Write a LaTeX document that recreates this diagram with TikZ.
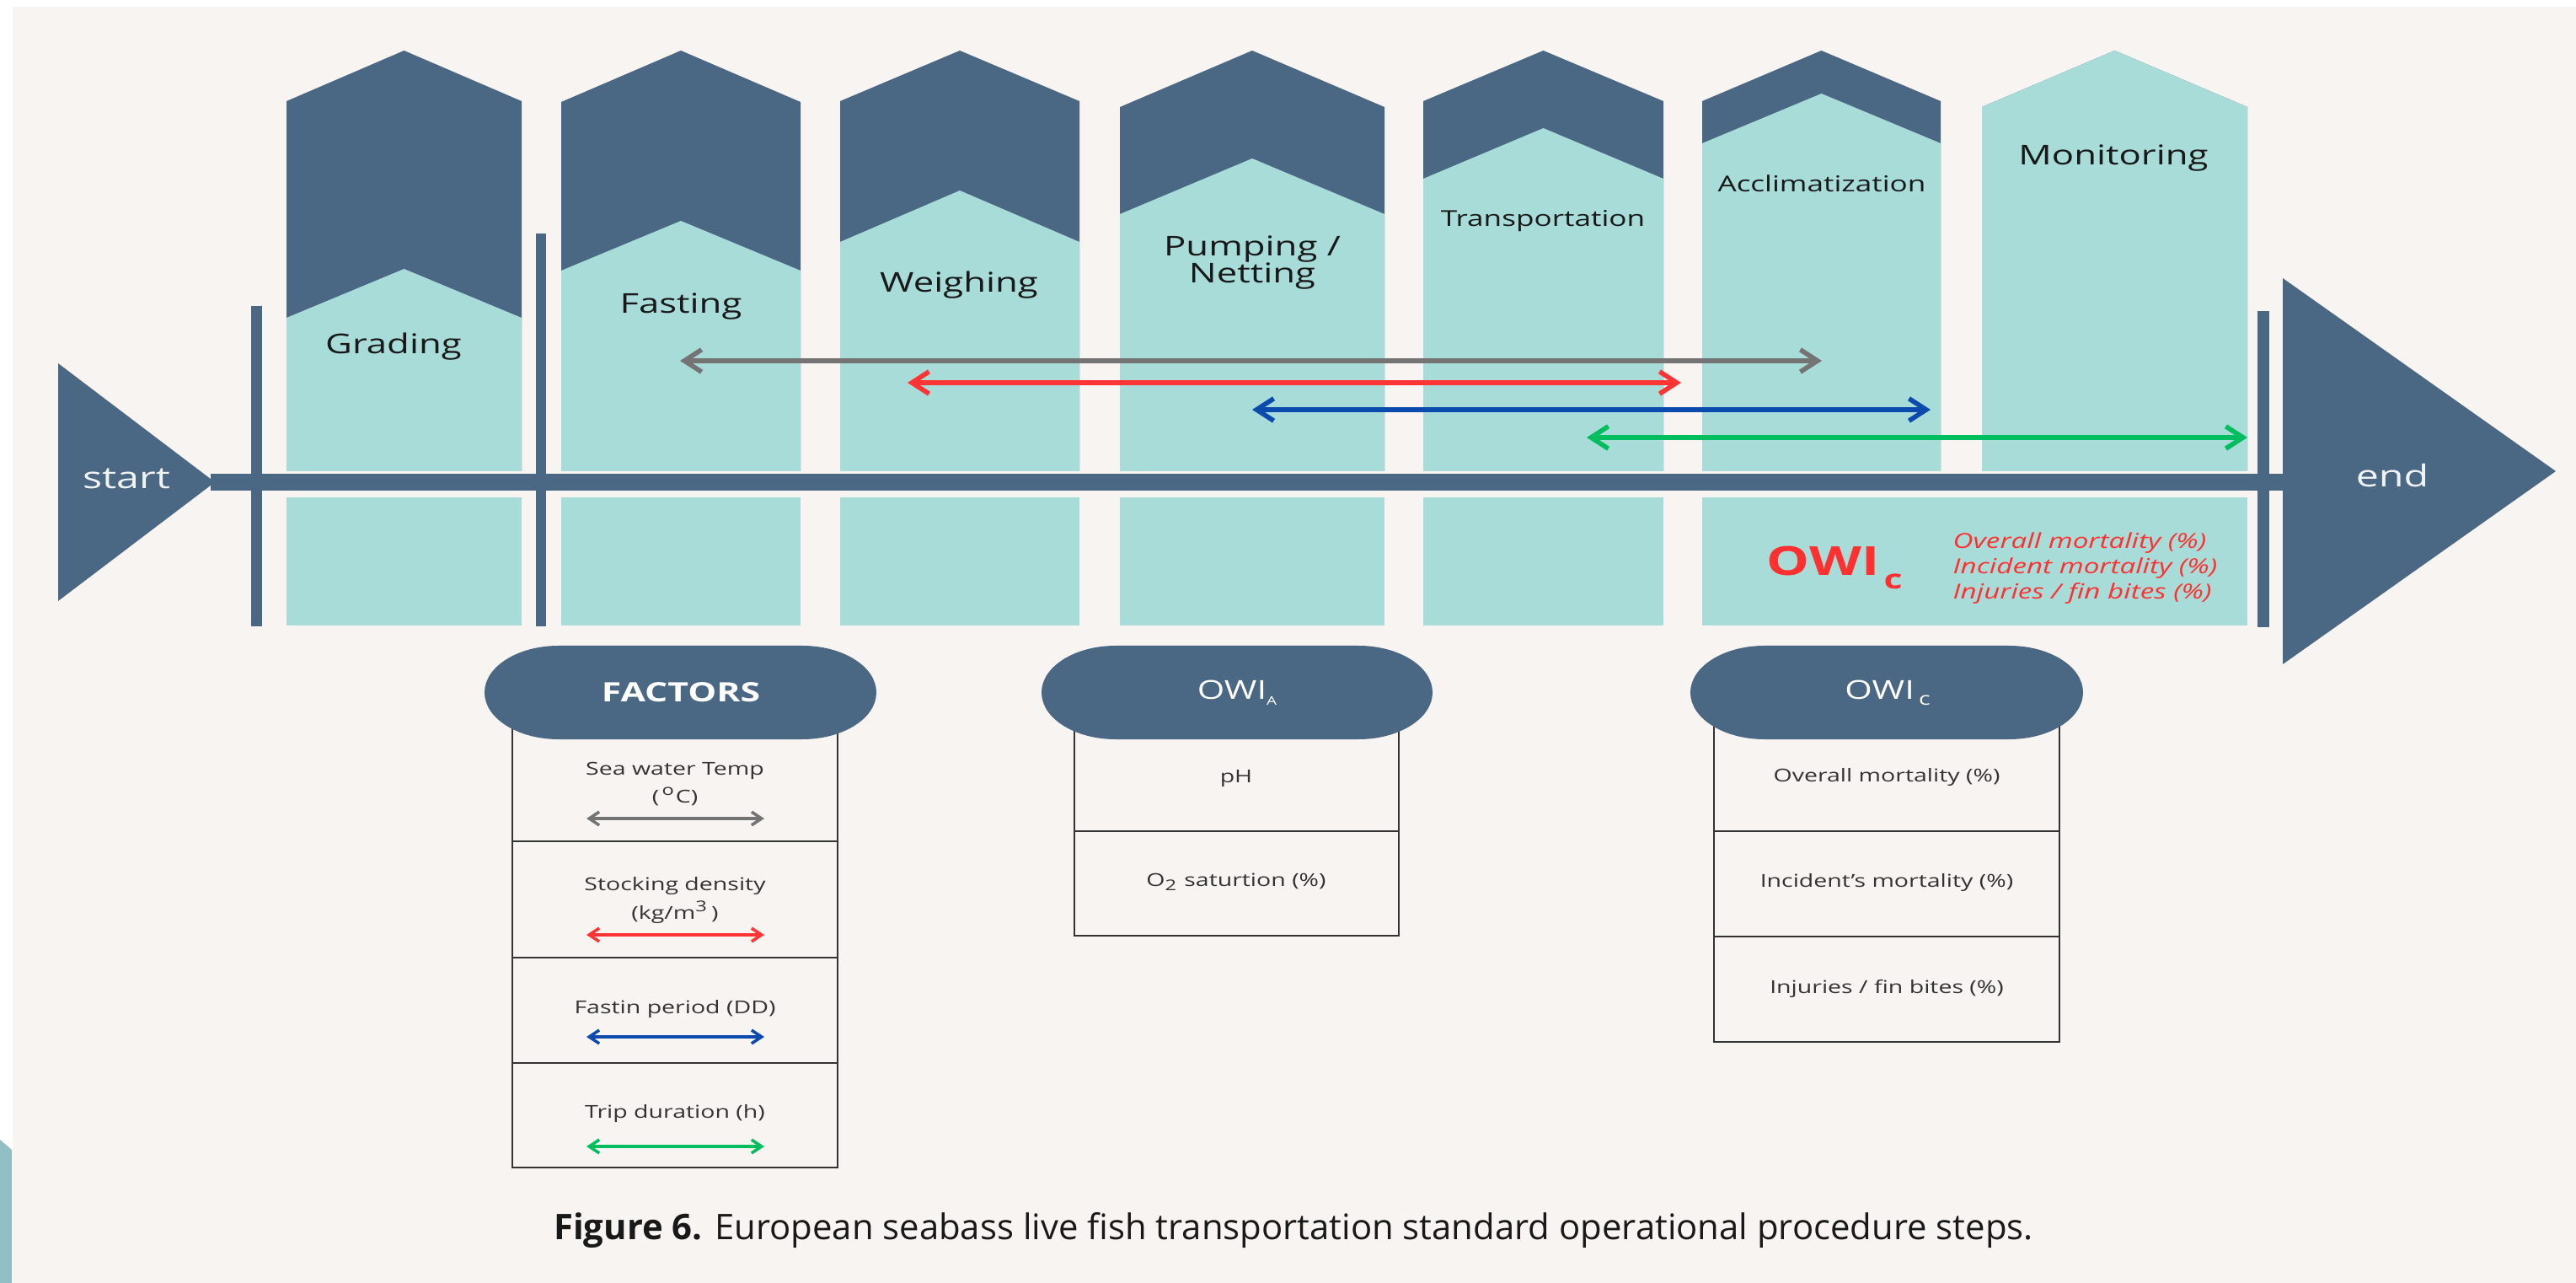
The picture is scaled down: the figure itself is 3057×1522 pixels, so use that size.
\documentclass[tikz,border=0pt]{standalone}
\usepackage{fontspec}
\setmainfont{Open Sans}
\newfontfamily\widesans[FakeStretch=1.35]{Open Sans}
\usepackage{tikz}
\usetikzlibrary{positioning,arrows.meta}

\definecolor{paper}{HTML}{F7F4F1}
\definecolor{slate}{HTML}{4A6783}
\definecolor{aqua}{HTML}{A8DCD8}
\definecolor{tempgrey}{HTML}{747474}
\definecolor{densred}{HTML}{FF3535}
\definecolor{fastblue}{HTML}{0B4BAD}
\definecolor{tripgreen}{HTML}{00BD5E}
\definecolor{owired}{HTML}{FF3030}

\tikzset{
  steplabel/.style={font={\widesans\fontsize{9.2}{11}\selectfont}, text=black!90, anchor=base, inner sep=0pt},
  smallstep/.style={steplabel, font={\widesans\fontsize{7.4}{9}\selectfont}},
  endlabel/.style={font={\widesans\fontsize{10.2}{12}\selectfont}, text=white!92!slate, anchor=base, inner sep=0pt},
  pilltext/.style={font={\widesans\fontsize{8.8}{10}\selectfont}, text=white, inner sep=0pt},
  celltext/.style={font={\widesans\fontsize{6}{7}\selectfont}, text=black!80, inner sep=0pt},
  owilist/.style={font={\widesans\itshape\fontsize{7}{8}\selectfont}, text=owired, anchor=base west, inner sep=0pt},
  tablerule/.style={draw=black!80, line width=0.8pt},
  spanarrow/.style={line width=1.6pt, {Straight Barb[length=5.8pt,width=7.5pt]}-{Straight Barb[length=5.8pt,width=7.5pt]}},
  keyarrow/.style={line width=1pt, {Straight Barb[length=3.4pt,width=4.5pt]}-{Straight Barb[length=3.4pt,width=4.5pt]}}
}

\begin{document}
\begin{tikzpicture}[x=0.01cm,y=-0.01cm]
\useasboundingbox (0,0) rectangle (3057,1522);
\fill[white] (0,0) rectangle (3057,1522);
\fill[paper] (15,8) rectangle (3057,1522);
\fill[aqua!75!slate] (0,1352) -- (14,1364) -- (14,1522) -- (0,1522) -- cycle;

% steps: dark chevron head, aqua body
\foreach \xl/\xr/\sh/\tp/\ts in {340/619/120/319/377, 666/950/121/262/321, 997/1281/120/226/287,
    1329/1643/127/188/254, 1689/1974/120/152/212, 2020/2303/120/111/170, 2352/2667/127/60/127}{
  \pgfmathsetmacro\xm{(\xl+\xr)/2}
  \fill[slate] (\xl,559) -- (\xl,\sh) -- (\xm,60) -- (\xr,\sh) -- (\xr,559) -- cycle;
  \fill[aqua] (\xl,559) -- (\xl,\ts) -- (\xm,\tp) -- (\xr,\ts) -- (\xr,559) -- cycle;
}
\foreach \xl/\xr in {340/619, 666/950, 997/1281, 1329/1643, 1689/1974, 2020/2667}
  \fill[aqua] (\xl,590) rectangle (\xr,742);

% spine, head and tail
\fill[slate] (250,562) rectangle (2712,582);
\fill[slate] (69,431) -- (69,713) -- (255,572) -- cycle;
\fill[slate] (2709,330) -- (2709,788) -- (3033,559) -- cycle;
\fill[slate] (298,363) rectangle (311,743);
\fill[slate] (636,277) rectangle (648,743);
\fill[slate] (2679,369) rectangle (2693,744);

\node[endlabel] (start) at (150,580) {start};
\node[endlabel] (finish) at (2839,578) {end};

\node[steplabel] (grading) at (467,420) {Grading};
\node[steplabel] (fasting) at (808,372) {Fasting};
\node[steplabel] (weighing) at (1138,347) {Weighing};
\node[steplabel] (pumping) at (1486,304) {Pumping /};
\node[steplabel] (netting) at (1486,336) {Netting};
\node[smallstep] (transport) at (1831,269) {Transportation};
\node[smallstep] (acclim) at (2162,228) {Acclimatization};
\node[steplabel] (monitor) at (2508,196) {Monitoring};

% factor ranges over the steps
\coordinate (tempL) at (807,428);   \coordinate (tempR) at (2162,428);
\coordinate (densL) at (1077,454);  \coordinate (densR) at (1995,454);
\coordinate (fastL) at (1486,486);  \coordinate (fastR) at (2291,486);
\coordinate (tripL) at (1883,519);  \coordinate (tripR) at (2667,519);
\draw[spanarrow,tempgrey] (tempL) -- (tempR);
\draw[spanarrow,densred] (densL) -- (densR);
\draw[spanarrow,fastblue] (fastL) -- (fastR);
\draw[spanarrow,tripgreen] (tripL) -- (tripR);

\node[font={\widesans\bfseries\fontsize{13.5}{14}\selectfont}, text=owired, anchor=base west, inner sep=0pt]
  (owibig) at (2096,683) {OWI\hspace{1.5pt}\raisebox{-4.3pt}{\fontsize{9}{9}\selectfont c}};
\node[owilist] (overall) at (2317,651) {Overall mortality (\%)};
\node[owilist] (incident) at (2317,681) {Incident mortality (\%)};
\node[owilist] (injury) at (2317,711) {Injuries / fin bites (\%)};

% tables under the pills
\draw[tablerule] (608,850) rectangle (994,1385);
\draw[tablerule] (608,998) -- (994,998) (608,1136) -- (994,1136) (608,1261) -- (994,1261);
\draw[tablerule] (1275,850) rectangle (1660,1110);
\draw[tablerule] (1275,986) -- (1660,986);
\draw[tablerule] (2034,850) rectangle (2444,1236);
\draw[tablerule] (2034,986) -- (2444,986) (2034,1111) -- (2444,1111);

\foreach \pl/\pr in {575/1040, 1236/1700, 2006/2472}
  \fill[slate] (\pl+88,766) -- (\pr-88,766) arc[start angle=-90,end angle=90,x radius=88,y radius=55.5]
    -- (\pl+88,877) arc[start angle=90,end angle=270,x radius=88,y radius=55.5] -- cycle;

\node[pilltext, font={\widesans\bfseries\fontsize{9}{10}\selectfont}] (factors) at (808,821) {FACTORS};
\node[pilltext] (owiA) at (1468,822) {OWI\raisebox{-2pt}{\fontsize{4}{4}\selectfont A}};
\node[pilltext] (owiC) at (2240,822) {OWI\,\raisebox{-2pt}{\fontsize{6}{6}\selectfont c}};

\node[celltext] (temp) at (801,914) {Sea water Temp};
\node[celltext] (tempunit) at (801,945) {(\,\textsuperscript{o}C)};
\node[celltext] (dens) at (801,1051) {Stocking density};
\node[celltext] (densunit) at (801,1082) {(kg/m\textsuperscript{3}\,)};
\node[celltext] (fastp) at (801,1197) {Fastin period (DD)};
\node[celltext] (tripd) at (801,1321) {Trip duration (h)};
\coordinate (k1L) at (696,971);  \coordinate (k1R) at (907,971);
\coordinate (k2L) at (696,1109); \coordinate (k2R) at (907,1109);
\coordinate (k3L) at (696,1230); \coordinate (k3R) at (907,1230);
\coordinate (k4L) at (696,1360); \coordinate (k4R) at (907,1360);
\draw[keyarrow,tempgrey] (k1L) -- (k1R);
\draw[keyarrow,densred] (k2L) -- (k2R);
\draw[keyarrow,fastblue] (k3L) -- (k3R);
\draw[keyarrow,tripgreen] (k4L) -- (k4R);

\node[celltext] (ph) at (1467,924) {pH};
\node[celltext] (oxy) at (1467,1046) {O\textsubscript{2} saturtion (\%)};

\node[celltext] (mortall) at (2239,922) {Overall mortality (\%)};
\node[celltext] (mortinc) at (2239,1047) {Incident’s mortality (\%)};
\node[celltext] (finbite) at (2239,1173) {Injuries / fin bites (\%)};

\node[font={\fontsize{11.9}{13}\selectfont}, text=black!90, anchor=base, inner sep=0pt] (caption) at (1535,1470)
  {\textbf{Figure 6.} European seabass live fish transportation standard operational procedure steps.};
\end{tikzpicture}
\end{document}
